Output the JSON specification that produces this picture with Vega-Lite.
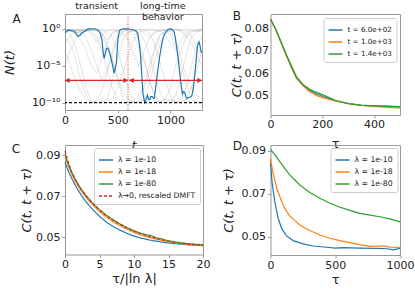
{
"$schema":"https://vega.github.io/schema/vega-lite/v6.json",
"padding":{"left":2,"top":0,"right":0,"bottom":0},
"config":{
"font":"DejaVu Sans",
"view":{"stroke":"#999","strokeWidth":1},
"axis":{"grid":false,"domain":false,"tickColor":"#999","tickSize":3,"labelFontSize":11,"labelColor":"#222","titleFontSize":13,"titleFontWeight":"normal","titleColor":"#222","labelPadding":1.5,"labelFlush":false},
"legend":{"orient":"top-right","offset":3,"fillColor":"white","strokeColor":"#ccc","cornerRadius":2,"padding":4,"labelFontSize":7.7,"labelColor":"#222","symbolType":"stroke","symbolSize":196,"symbolStrokeWidth":1.5,"rowPadding":-2.5,"labelOffset":4},
"title":{"fontSize":12,"fontWeight":"normal","anchor":"start","frame":"group","offset":0,"baseline":"alphabetic","color":"#222"}
},
"bounds":"flush",
"columns":2,
"spacing":{"row":30,"column":67.5},
"resolve":{"scale":{"color":"independent","strokeDash":"independent"},"legend":{"color":"independent","strokeDash":"independent"}},
"concat":[
{"width":137,"height":96,
"title":{"text":"A","dx":-52.6,"dy":29.4},
"layer":[
{"data":{"values":[
{"id":"g1","t":0,"N":0.794},{"id":"g1","t":50,"N":0.631},{"id":"g1","t":100,"N":0.316},{"id":"g1","t":150,"N":0.0316},{"id":"g1","t":200,"N":0.001},{"id":"g1","t":250,"N":1e-5},{"id":"g1","t":300,"N":1e-6},{"id":"g1","t":350,"N":1e-4},{"id":"g1","t":400,"N":0.01},{"id":"g1","t":450,"N":0.316},{"id":"g1","t":500,"N":0.631},{"id":"g1","t":550,"N":0.794},{"id":"g1","t":600,"N":0.501},{"id":"g1","t":650,"N":0.1},{"id":"g1","t":700,"N":0.00316},{"id":"g1","t":750,"N":3.16e-5},{"id":"g1","t":800,"N":1e-7},{"id":"g1","t":850,"N":1e-9},{"id":"g1","t":900,"N":1e-10},{"id":"g1","t":950,"N":3.16e-10},{"id":"g1","t":1000,"N":1e-8},{"id":"g1","t":1050,"N":1e-5},{"id":"g1","t":1100,"N":0.001},{"id":"g1","t":1150,"N":0.1},{"id":"g1","t":1200,"N":0.501},{"id":"g1","t":1250,"N":0.631},{"id":"g1","t":1300,"N":0.794},
{"id":"g2","t":0,"N":0.501},{"id":"g2","t":50,"N":0.794},{"id":"g2","t":100,"N":0.794},{"id":"g2","t":150,"N":0.631},{"id":"g2","t":200,"N":0.398},{"id":"g2","t":250,"N":0.631},{"id":"g2","t":300,"N":0.794},{"id":"g2","t":350,"N":0.316},{"id":"g2","t":400,"N":0.01},{"id":"g2","t":450,"N":1e-4},{"id":"g2","t":500,"N":1e-7},{"id":"g2","t":550,"N":3.16e-10},{"id":"g2","t":600,"N":1e-10},{"id":"g2","t":650,"N":1e-10},{"id":"g2","t":700,"N":1.58e-10},{"id":"g2","t":750,"N":1e-8},{"id":"g2","t":800,"N":1e-6},{"id":"g2","t":850,"N":0.001},{"id":"g2","t":900,"N":0.1},{"id":"g2","t":950,"N":0.398},{"id":"g2","t":1000,"N":0.631},{"id":"g2","t":1050,"N":0.794},{"id":"g2","t":1100,"N":0.631},{"id":"g2","t":1150,"N":0.158},{"id":"g2","t":1200,"N":0.01},{"id":"g2","t":1250,"N":3.16e-4},{"id":"g2","t":1300,"N":1e-5},
{"id":"g3","t":0,"N":0.1},{"id":"g3","t":50,"N":0.01},{"id":"g3","t":100,"N":1e-4},{"id":"g3","t":150,"N":1e-7},{"id":"g3","t":200,"N":1e-9},{"id":"g3","t":250,"N":1e-10},{"id":"g3","t":300,"N":2e-10},{"id":"g3","t":350,"N":3.16e-9},{"id":"g3","t":400,"N":1e-6},{"id":"g3","t":450,"N":3.16e-4},{"id":"g3","t":500,"N":0.0316},{"id":"g3","t":550,"N":0.398},{"id":"g3","t":600,"N":0.794},{"id":"g3","t":650,"N":0.794},{"id":"g3","t":700,"N":0.631},{"id":"g3","t":750,"N":0.316},{"id":"g3","t":800,"N":0.063},{"id":"g3","t":850,"N":0.251},{"id":"g3","t":900,"N":0.631},{"id":"g3","t":950,"N":0.794},{"id":"g3","t":1000,"N":0.501},{"id":"g3","t":1050,"N":0.0316},{"id":"g3","t":1100,"N":1e-4},{"id":"g3","t":1150,"N":3.16e-7},{"id":"g3","t":1200,"N":1e-8},{"id":"g3","t":1250,"N":1e-9},{"id":"g3","t":1300,"N":3.16e-10},
{"id":"g4","t":0,"N":0.316},{"id":"g4","t":50,"N":0.501},{"id":"g4","t":100,"N":0.631},{"id":"g4","t":150,"N":0.794},{"id":"g4","t":200,"N":0.794},{"id":"g4","t":250,"N":0.501},{"id":"g4","t":300,"N":0.1},{"id":"g4","t":350,"N":0.001},{"id":"g4","t":400,"N":3.16e-6},{"id":"g4","t":450,"N":1e-8},{"id":"g4","t":500,"N":3.16e-10},{"id":"g4","t":550,"N":1e-10},{"id":"g4","t":600,"N":1e-10},{"id":"g4","t":650,"N":1.58e-10},{"id":"g4","t":700,"N":1e-9},{"id":"g4","t":750,"N":3.16e-8},{"id":"g4","t":800,"N":1e-5},{"id":"g4","t":850,"N":0.00316},{"id":"g4","t":900,"N":0.158},{"id":"g4","t":950,"N":0.631},{"id":"g4","t":1000,"N":0.794},{"id":"g4","t":1050,"N":0.794},{"id":"g4","t":1100,"N":0.631},{"id":"g4","t":1150,"N":0.794},{"id":"g4","t":1200,"N":0.631},{"id":"g4","t":1250,"N":0.398},{"id":"g4","t":1300,"N":0.501},
{"id":"g5","t":0,"N":0.01},{"id":"g5","t":50,"N":0.1},{"id":"g5","t":100,"N":0.501},{"id":"g5","t":150,"N":0.794},{"id":"g5","t":200,"N":0.631},{"id":"g5","t":250,"N":0.251},{"id":"g5","t":300,"N":0.0158},{"id":"g5","t":350,"N":0.1},{"id":"g5","t":400,"N":0.501},{"id":"g5","t":450,"N":0.794},{"id":"g5","t":500,"N":0.631},{"id":"g5","t":550,"N":0.316},{"id":"g5","t":600,"N":0.0316},{"id":"g5","t":650,"N":3.16e-4},{"id":"g5","t":700,"N":1e-5},{"id":"g5","t":750,"N":0.001},{"id":"g5","t":800,"N":0.063},{"id":"g5","t":850,"N":0.398},{"id":"g5","t":900,"N":0.794},{"id":"g5","t":950,"N":0.631},{"id":"g5","t":1000,"N":0.158},{"id":"g5","t":1050,"N":0.00316},{"id":"g5","t":1100,"N":1e-5},{"id":"g5","t":1150,"N":3.16e-8},{"id":"g5","t":1200,"N":3.16e-10},{"id":"g5","t":1250,"N":1e-10},{"id":"g5","t":1300,"N":1e-10},
{"id":"g6","t":0,"N":0.631},{"id":"g6","t":50,"N":0.158},{"id":"g6","t":100,"N":0.00316},{"id":"g6","t":150,"N":1e-5},{"id":"g6","t":200,"N":1e-8},{"id":"g6","t":250,"N":1.58e-10},{"id":"g6","t":300,"N":1e-10},{"id":"g6","t":350,"N":1e-10},{"id":"g6","t":400,"N":3.16e-10},{"id":"g6","t":450,"N":1e-7},{"id":"g6","t":500,"N":1e-4},{"id":"g6","t":550,"N":0.0316},{"id":"g6","t":600,"N":0.316},{"id":"g6","t":650,"N":0.631},{"id":"g6","t":700,"N":0.794},{"id":"g6","t":750,"N":0.631},{"id":"g6","t":800,"N":0.251},{"id":"g6","t":850,"N":0.01},{"id":"g6","t":900,"N":3.16e-5},{"id":"g6","t":950,"N":1e-7},{"id":"g6","t":1000,"N":1e-9},{"id":"g6","t":1050,"N":1e-10},{"id":"g6","t":1100,"N":2e-10},{"id":"g6","t":1150,"N":1e-8},{"id":"g6","t":1200,"N":1e-5},{"id":"g6","t":1250,"N":0.00316},{"id":"g6","t":1300,"N":0.1},
{"id":"g7","t":0,"N":0.794},{"id":"g7","t":50,"N":0.794},{"id":"g7","t":100,"N":0.631},{"id":"g7","t":150,"N":0.501},{"id":"g7","t":200,"N":0.794},{"id":"g7","t":250,"N":0.794},{"id":"g7","t":300,"N":0.631},{"id":"g7","t":350,"N":0.251},{"id":"g7","t":400,"N":0.0316},{"id":"g7","t":450,"N":0.2},{"id":"g7","t":500,"N":0.631},{"id":"g7","t":550,"N":0.794},{"id":"g7","t":600,"N":0.794},{"id":"g7","t":650,"N":0.631},{"id":"g7","t":700,"N":0.316},{"id":"g7","t":750,"N":0.0316},{"id":"g7","t":800,"N":3.16e-4},{"id":"g7","t":850,"N":1e-6},{"id":"g7","t":900,"N":3.16e-9},{"id":"g7","t":950,"N":1e-10},{"id":"g7","t":1000,"N":1e-10},{"id":"g7","t":1050,"N":1e-9},{"id":"g7","t":1100,"N":3.16e-7},{"id":"g7","t":1150,"N":3.16e-4},{"id":"g7","t":1200,"N":0.063},{"id":"g7","t":1250,"N":0.398},{"id":"g7","t":1300,"N":0.631},
{"id":"g8","t":0,"N":0.001},{"id":"g8","t":50,"N":1e-5},{"id":"g8","t":100,"N":1e-7},{"id":"g8","t":150,"N":3.16e-9},{"id":"g8","t":200,"N":3.16e-10},{"id":"g8","t":250,"N":1e-10},{"id":"g8","t":300,"N":1e-10},{"id":"g8","t":350,"N":1.58e-10},{"id":"g8","t":400,"N":1e-10},{"id":"g8","t":450,"N":3.16e-10},{"id":"g8","t":500,"N":1e-8},{"id":"g8","t":550,"N":1e-6},{"id":"g8","t":600,"N":3.16e-4},{"id":"g8","t":650,"N":0.0316},{"id":"g8","t":700,"N":0.316},{"id":"g8","t":750,"N":0.631},{"id":"g8","t":800,"N":0.794},{"id":"g8","t":850,"N":0.631},{"id":"g8","t":900,"N":0.501},{"id":"g8","t":950,"N":0.631},{"id":"g8","t":1000,"N":0.794},{"id":"g8","t":1050,"N":0.794},{"id":"g8","t":1100,"N":0.398},{"id":"g8","t":1150,"N":0.063},{"id":"g8","t":1200,"N":0.316},{"id":"g8","t":1250,"N":0.631},{"id":"g8","t":1300,"N":0.794},
{"id":"g9","t":0,"N":0.398},{"id":"g9","t":50,"N":0.631},{"id":"g9","t":100,"N":0.794},{"id":"g9","t":150,"N":0.501},{"id":"g9","t":200,"N":0.063},{"id":"g9","t":250,"N":0.001},{"id":"g9","t":300,"N":1e-5},{"id":"g9","t":350,"N":1e-7},{"id":"g9","t":400,"N":3.16e-6},{"id":"g9","t":450,"N":0.001},{"id":"g9","t":500,"N":0.1},{"id":"g9","t":550,"N":0.501},{"id":"g9","t":600,"N":0.631},{"id":"g9","t":650,"N":0.398},{"id":"g9","t":700,"N":0.0316},{"id":"g9","t":750,"N":1e-4},{"id":"g9","t":800,"N":1e-7},{"id":"g9","t":850,"N":1e-9},{"id":"g9","t":900,"N":1e-10},{"id":"g9","t":950,"N":1e-10},{"id":"g9","t":1000,"N":2.51e-10},{"id":"g9","t":1050,"N":1.58e-10},{"id":"g9","t":1100,"N":1e-10},{"id":"g9","t":1150,"N":3.16e-10},{"id":"g9","t":1200,"N":1e-8},{"id":"g9","t":1250,"N":3.16e-6},{"id":"g9","t":1300,"N":0.001},
{"id":"g10","t":0,"N":0.794},{"id":"g10","t":50,"N":0.501},{"id":"g10","t":100,"N":0.251},{"id":"g10","t":150,"N":0.501},{"id":"g10","t":200,"N":0.794},{"id":"g10","t":250,"N":0.631},{"id":"g10","t":300,"N":0.794},{"id":"g10","t":350,"N":0.794},{"id":"g10","t":400,"N":0.398},{"id":"g10","t":450,"N":0.063},{"id":"g10","t":500,"N":0.001},{"id":"g10","t":550,"N":3.16e-6},{"id":"g10","t":600,"N":1e-8},{"id":"g10","t":650,"N":1.58e-10},{"id":"g10","t":700,"N":1e-10},{"id":"g10","t":750,"N":3.16e-10},{"id":"g10","t":800,"N":3.16e-8},{"id":"g10","t":850,"N":3.16e-5},{"id":"g10","t":900,"N":0.01},{"id":"g10","t":950,"N":0.251},{"id":"g10","t":1000,"N":0.631},{"id":"g10","t":1050,"N":0.794},{"id":"g10","t":1100,"N":0.794},{"id":"g10","t":1150,"N":0.501},{"id":"g10","t":1200,"N":0.126},{"id":"g10","t":1250,"N":0.00316},{"id":"g10","t":1300,"N":1e-4},
{"id":"g11","t":0,"N":0.631},{"id":"g11","t":50,"N":0.794},{"id":"g11","t":100,"N":0.501},{"id":"g11","t":150,"N":0.251},{"id":"g11","t":200,"N":0.501},{"id":"g11","t":250,"N":0.794},{"id":"g11","t":300,"N":0.794},{"id":"g11","t":350,"N":0.501},{"id":"g11","t":400,"N":0.631},{"id":"g11","t":450,"N":0.794},{"id":"g11","t":500,"N":0.398},{"id":"g11","t":550,"N":0.1},{"id":"g11","t":600,"N":0.316},{"id":"g11","t":650,"N":0.631},{"id":"g11","t":700,"N":0.794},{"id":"g11","t":750,"N":0.794},{"id":"g11","t":800,"N":0.631},{"id":"g11","t":850,"N":0.794},{"id":"g11","t":900,"N":0.501},{"id":"g11","t":950,"N":0.158},{"id":"g11","t":1000,"N":0.01},{"id":"g11","t":1050,"N":0.001},{"id":"g11","t":1100,"N":0.0316},{"id":"g11","t":1150,"N":0.316},{"id":"g11","t":1200,"N":0.631},{"id":"g11","t":1250,"N":0.794},{"id":"g11","t":1300,"N":0.794},
{"id":"g12","t":0,"N":1e-5},{"id":"g12","t":50,"N":0.001},{"id":"g12","t":100,"N":0.0316},{"id":"g12","t":150,"N":0.316},{"id":"g12","t":200,"N":0.631},{"id":"g12","t":250,"N":0.794},{"id":"g12","t":300,"N":0.501},{"id":"g12","t":350,"N":0.1},{"id":"g12","t":400,"N":0.00316},{"id":"g12","t":450,"N":3.16e-5},{"id":"g12","t":500,"N":3.16e-7},{"id":"g12","t":550,"N":3.16e-9},{"id":"g12","t":600,"N":3.16e-10},{"id":"g12","t":650,"N":1e-10},{"id":"g12","t":700,"N":1e-10},{"id":"g12","t":750,"N":2e-10},{"id":"g12","t":800,"N":1e-10},{"id":"g12","t":850,"N":1.58e-10},{"id":"g12","t":900,"N":1e-10},{"id":"g12","t":950,"N":3.16e-10},{"id":"g12","t":1000,"N":2e-10},{"id":"g12","t":1050,"N":1e-10},{"id":"g12","t":1100,"N":1e-10},{"id":"g12","t":1150,"N":2.51e-10},{"id":"g12","t":1200,"N":1e-10},{"id":"g12","t":1250,"N":1.58e-10},{"id":"g12","t":1300,"N":1e-10}
]},
"mark":{"type":"line","color":"#9a9a9a","opacity":0.35,"strokeWidth":0.8},
"encoding":{
"x":{"field":"t","type":"quantitative","scale":{"domain":[0,1300]},"axis":{"values":[0,500,1000],"format":"d","title":"t","titleFontStyle":"italic","labelPadding":1,"titlePadding":14}},
"y":{"field":"N","type":"quantitative","scale":{"type":"log","domain":[1.17e-11,13.5]},"axis":{"values":[1e-10,1e-5,1],"labelExpr":"datum.value > 0.5 ? '10⁰' : datum.value > 1e-7 ? '10⁻⁵' : '10⁻¹⁰'","title":"N(t)","titleFontStyle":"italic","tickSize":3,"labelPadding":2,"titlePadding":15}},
"detail":{"field":"id"}}},
{"data":{"values":[
{"t":0,"N":0.3},{"t":28,"N":0.63},{"t":76,"N":0.5},{"t":100,"N":0.32},{"t":123,"N":0.09},{"t":140,"N":0.126},{"t":156,"N":0.23},{"t":190,"N":0.5},{"t":218,"N":0.95},{"t":250,"N":1},{"t":282,"N":1},{"t":313,"N":0.63},{"t":335,"N":0.25},{"t":350,"N":0.0316},{"t":362,"N":6.3e-4},{"t":372,"N":1e-4},{"t":385,"N":6.3e-4},{"t":393,"N":2e-3},{"t":405,"N":2.5e-3},{"t":415,"N":1.26e-3},{"t":428,"N":3.16e-4},{"t":440,"N":6.3e-5},{"t":455,"N":6.3e-6},{"t":465,"N":1e-6},{"t":475,"N":3.16e-6},{"t":488,"N":2.5e-5},{"t":497,"N":3.16e-3},{"t":503,"N":0.05},{"t":519,"N":0.63},{"t":550,"N":1},{"t":575,"N":0.95},{"t":598,"N":1},{"t":630,"N":0.8},{"t":661,"N":0.63},{"t":680,"N":0.4},{"t":693,"N":0.145},{"t":705,"N":0.01},{"t":718,"N":1.58e-4},{"t":730,"N":3.16e-7},{"t":740,"N":1.58e-9},{"t":756,"N":1e-10},{"t":770,"N":3.16e-10},{"t":782,"N":1e-9},{"t":793,"N":2.5e-10},{"t":804,"N":2.5e-10},{"t":815,"N":6.3e-10},{"t":826,"N":6.3e-10},{"t":845,"N":3.5e-10},{"t":856,"N":3.16e-9},{"t":867,"N":7e-8},{"t":882,"N":3.16e-6},{"t":898,"N":1.58e-4},{"t":915,"N":5e-3},{"t":930,"N":0.055},{"t":945,"N":0.2},{"t":962,"N":0.46},{"t":978,"N":0.8},{"t":993,"N":1},{"t":1010,"N":0.89},{"t":1025,"N":0.63},{"t":1037,"N":0.32},{"t":1047,"N":0.055},{"t":1060,"N":3.16e-3},{"t":1072,"N":1.58e-4},{"t":1085,"N":3.16e-6},{"t":1098,"N":7e-8},{"t":1106,"N":1e-8},{"t":1114,"N":1.58e-9},{"t":1125,"N":3.16e-9},{"t":1136,"N":2.5e-9},{"t":1147,"N":6.3e-10},{"t":1158,"N":3.5e-10},{"t":1170,"N":5e-10},{"t":1183,"N":5.6e-10},{"t":1195,"N":6.3e-10},{"t":1205,"N":1e-9},{"t":1218,"N":1e-8},{"t":1231,"N":5e-7},{"t":1244,"N":5e-5},{"t":1256,"N":3.16e-3},{"t":1265,"N":0.0126},{"t":1271,"N":0.017},{"t":1280,"N":6.3e-3},{"t":1288,"N":1.26e-3},{"t":1296,"N":5e-4}
]},
"mark":{"type":"line","color":"#1f77b4","strokeWidth":1.2},
"encoding":{"x":{"field":"t","type":"quantitative"},"y":{"field":"N","type":"quantitative"}}},
{"data":{"values":[{"N":1e-10}]},
"mark":{"type":"rule","color":"black","strokeDash":[3,2],"strokeWidth":1.3},
"encoding":{"y":{"field":"N","type":"quantitative"}}},
{"data":{"values":[{"t":598}]},
"mark":{"type":"rule","color":"#d62728","strokeDash":[1,1.5],"strokeWidth":0.9},
"encoding":{"x":{"field":"t","type":"quantitative"}}},
{"data":{"values":[{"x0":0,"x1":598,"N":1e-7},{"x0":608,"x1":1300,"N":1e-7}]},
"mark":{"type":"rule","color":"#d62728","strokeWidth":1.3},
"encoding":{"x":{"field":"x0","type":"quantitative"},"x2":{"field":"x1"},"y":{"field":"N","type":"quantitative"}}},
{"data":{"values":[{"t":22,"N":1e-7,"dir":"left"},{"t":576,"N":1e-7,"dir":"right"},{"t":630,"N":1e-7,"dir":"left"},{"t":1278,"N":1e-7,"dir":"right"}]},
"mark":{"type":"point","filled":true,"color":"#d62728","opacity":1,"size":28},
"encoding":{"x":{"field":"t","type":"quantitative"},"y":{"field":"N","type":"quantitative"},"shape":{"field":"dir","type":"nominal","scale":{"domain":["left","right"],"range":["triangle-left","triangle-right"]},"legend":null}}},
{"data":{"values":[{"t":300,"label":"transient"},{"t":928,"label":["long-time","behavior"]}]},
"mark":{"type":"text","baseline":"top","align":"center","fontSize":9.5,"lineHeight":11.5,"color":"#222"},
"encoding":{"x":{"field":"t","type":"quantitative"},"y":{"datum":6500},"text":{"field":"label","type":"nominal"}}}
]},
{"width":129.5,"height":101,
"title":{"text":"B","dx":-37.7,"dy":12.5},
"data":{"values":[
{"s":"t = 6.0e+02","tau":0,"C":0.0839},{"s":"t = 6.0e+02","tau":20,"C":0.0794},{"s":"t = 6.0e+02","tau":40,"C":0.0739},{"s":"t = 6.0e+02","tau":60,"C":0.0682},{"s":"t = 6.0e+02","tau":80,"C":0.0627},{"s":"t = 6.0e+02","tau":100,"C":0.0578},{"s":"t = 6.0e+02","tau":125,"C":0.0548},{"s":"t = 6.0e+02","tau":150,"C":0.0525},{"s":"t = 6.0e+02","tau":175,"C":0.0510},{"s":"t = 6.0e+02","tau":200,"C":0.0498},{"s":"t = 6.0e+02","tau":250,"C":0.0478},{"s":"t = 6.0e+02","tau":300,"C":0.0466},{"s":"t = 6.0e+02","tau":350,"C":0.0459},{"s":"t = 6.0e+02","tau":400,"C":0.0456},{"s":"t = 6.0e+02","tau":450,"C":0.0454},{"s":"t = 6.0e+02","tau":500,"C":0.0452},
{"s":"t = 1.0e+03","tau":0,"C":0.0838},{"s":"t = 1.0e+03","tau":20,"C":0.0793},{"s":"t = 1.0e+03","tau":40,"C":0.0738},{"s":"t = 1.0e+03","tau":60,"C":0.0683},{"s":"t = 1.0e+03","tau":80,"C":0.0630},{"s":"t = 1.0e+03","tau":100,"C":0.0580},{"s":"t = 1.0e+03","tau":125,"C":0.0545},{"s":"t = 1.0e+03","tau":150,"C":0.0520},{"s":"t = 1.0e+03","tau":175,"C":0.0503},{"s":"t = 1.0e+03","tau":200,"C":0.0492},{"s":"t = 1.0e+03","tau":250,"C":0.0477},{"s":"t = 1.0e+03","tau":300,"C":0.0465},{"s":"t = 1.0e+03","tau":350,"C":0.0458},{"s":"t = 1.0e+03","tau":400,"C":0.0453},{"s":"t = 1.0e+03","tau":450,"C":0.0449},{"s":"t = 1.0e+03","tau":500,"C":0.0446},
{"s":"t = 1.4e+03","tau":0,"C":0.0840},{"s":"t = 1.4e+03","tau":20,"C":0.0795},{"s":"t = 1.4e+03","tau":40,"C":0.0740},{"s":"t = 1.4e+03","tau":60,"C":0.0685},{"s":"t = 1.4e+03","tau":80,"C":0.0635},{"s":"t = 1.4e+03","tau":100,"C":0.0585},{"s":"t = 1.4e+03","tau":125,"C":0.0550},{"s":"t = 1.4e+03","tau":150,"C":0.0530},{"s":"t = 1.4e+03","tau":175,"C":0.0516},{"s":"t = 1.4e+03","tau":200,"C":0.0505},{"s":"t = 1.4e+03","tau":250,"C":0.0480},{"s":"t = 1.4e+03","tau":300,"C":0.0465},{"s":"t = 1.4e+03","tau":350,"C":0.0458},{"s":"t = 1.4e+03","tau":400,"C":0.0455},{"s":"t = 1.4e+03","tau":450,"C":0.0453},{"s":"t = 1.4e+03","tau":500,"C":0.0451}
]},
"mark":{"type":"line","strokeWidth":1.2},
"encoding":{
"x":{"field":"tau","type":"quantitative","scale":{"domain":[0,500]},"axis":{"values":[0,200,400],"title":"τ","labelPadding":0,"titlePadding":8}},
"y":{"field":"C","type":"quantitative","scale":{"domain":[0.0415,0.0862]},"axis":{"values":[0.05,0.06,0.07,0.08],"format":".2f","title":"C(t, t + τ)","titleFontStyle":"italic","tickSize":0,"labelPadding":2,"titlePadding":1}},
"color":{"field":"s","type":"nominal","scale":{"domain":["t = 6.0e+02","t = 1.0e+03","t = 1.4e+03"],"range":["#1f77b4","#ff7f0e","#2ca02c"]},"legend":{"title":null,"labelFontSize":7.2,"offset":4}}}},
{"width":138,"height":109.5,
"title":{"text":"C","dx":-53.3,"dy":14.5},
"data":{"values":[
{"s":"λ = 1e-10","x":0,"C":0.0865},{"s":"λ = 1e-10","x":0.5,"C":0.0820},{"s":"λ = 1e-10","x":1,"C":0.0785},{"s":"λ = 1e-10","x":1.5,"C":0.0752},{"s":"λ = 1e-10","x":2,"C":0.0723},{"s":"λ = 1e-10","x":2.5,"C":0.0697},{"s":"λ = 1e-10","x":3,"C":0.0674},{"s":"λ = 1e-10","x":4,"C":0.0635},{"s":"λ = 1e-10","x":5,"C":0.0601},{"s":"λ = 1e-10","x":6,"C":0.0573},{"s":"λ = 1e-10","x":7,"C":0.0551},{"s":"λ = 1e-10","x":8,"C":0.0533},{"s":"λ = 1e-10","x":9,"C":0.0518},{"s":"λ = 1e-10","x":10,"C":0.0505},{"s":"λ = 1e-10","x":11,"C":0.0495},{"s":"λ = 1e-10","x":12.5,"C":0.0484},{"s":"λ = 1e-10","x":14,"C":0.0476},{"s":"λ = 1e-10","x":15,"C":0.0471},{"s":"λ = 1e-10","x":17.5,"C":0.0463},{"s":"λ = 1e-10","x":20,"C":0.0458},
{"s":"λ = 1e-18","x":0,"C":0.0890},{"s":"λ = 1e-18","x":0.5,"C":0.0845},{"s":"λ = 1e-18","x":1,"C":0.0805},{"s":"λ = 1e-18","x":1.5,"C":0.0772},{"s":"λ = 1e-18","x":2,"C":0.0743},{"s":"λ = 1e-18","x":2.5,"C":0.0718},{"s":"λ = 1e-18","x":3,"C":0.0696},{"s":"λ = 1e-18","x":4,"C":0.0657},{"s":"λ = 1e-18","x":5,"C":0.0625},{"s":"λ = 1e-18","x":6,"C":0.0597},{"s":"λ = 1e-18","x":7,"C":0.0574},{"s":"λ = 1e-18","x":8,"C":0.0555},{"s":"λ = 1e-18","x":9,"C":0.0538},{"s":"λ = 1e-18","x":10,"C":0.0523},{"s":"λ = 1e-18","x":11,"C":0.0510},{"s":"λ = 1e-18","x":12.5,"C":0.0496},{"s":"λ = 1e-18","x":14,"C":0.0484},{"s":"λ = 1e-18","x":15,"C":0.0477},{"s":"λ = 1e-18","x":17.5,"C":0.0465},{"s":"λ = 1e-18","x":20,"C":0.0458},
{"s":"λ = 1e-80","x":0,"C":0.0905},{"s":"λ = 1e-80","x":0.5,"C":0.0855},{"s":"λ = 1e-80","x":1,"C":0.0815},{"s":"λ = 1e-80","x":1.5,"C":0.0781},{"s":"λ = 1e-80","x":2,"C":0.0752},{"s":"λ = 1e-80","x":2.5,"C":0.0727},{"s":"λ = 1e-80","x":3,"C":0.0705},{"s":"λ = 1e-80","x":4,"C":0.0666},{"s":"λ = 1e-80","x":5,"C":0.0634},{"s":"λ = 1e-80","x":6,"C":0.0607},{"s":"λ = 1e-80","x":7,"C":0.0584},{"s":"λ = 1e-80","x":8,"C":0.0564},{"s":"λ = 1e-80","x":9,"C":0.0546},{"s":"λ = 1e-80","x":10,"C":0.0531},{"s":"λ = 1e-80","x":11,"C":0.0518},{"s":"λ = 1e-80","x":12,"C":0.0509},{"s":"λ = 1e-80","x":12.5,"C":0.0508},{"s":"λ = 1e-80","x":13,"C":0.0499},{"s":"λ = 1e-80","x":14,"C":0.0491},{"s":"λ = 1e-80","x":15,"C":0.0482},{"s":"λ = 1e-80","x":16,"C":0.0476},{"s":"λ = 1e-80","x":17.5,"C":0.0469},{"s":"λ = 1e-80","x":19,"C":0.0465},{"s":"λ = 1e-80","x":20,"C":0.0463},
{"s":"λ→0, rescaled DMFT","x":0,"C":0.0920},{"s":"λ→0, rescaled DMFT","x":0.5,"C":0.0860},{"s":"λ→0, rescaled DMFT","x":1,"C":0.0815},{"s":"λ→0, rescaled DMFT","x":1.5,"C":0.0780},{"s":"λ→0, rescaled DMFT","x":2,"C":0.0750},{"s":"λ→0, rescaled DMFT","x":2.5,"C":0.0725},{"s":"λ→0, rescaled DMFT","x":3,"C":0.0703},{"s":"λ→0, rescaled DMFT","x":4,"C":0.0664},{"s":"λ→0, rescaled DMFT","x":5,"C":0.0632},{"s":"λ→0, rescaled DMFT","x":6,"C":0.0604},{"s":"λ→0, rescaled DMFT","x":7,"C":0.0581},{"s":"λ→0, rescaled DMFT","x":8,"C":0.0561},{"s":"λ→0, rescaled DMFT","x":9,"C":0.0544},{"s":"λ→0, rescaled DMFT","x":10,"C":0.0529},{"s":"λ→0, rescaled DMFT","x":11,"C":0.0516},{"s":"λ→0, rescaled DMFT","x":12.5,"C":0.0500},{"s":"λ→0, rescaled DMFT","x":14,"C":0.0487},{"s":"λ→0, rescaled DMFT","x":15,"C":0.0480},{"s":"λ→0, rescaled DMFT","x":17.5,"C":0.0467},{"s":"λ→0, rescaled DMFT","x":20,"C":0.0459}
]},
"mark":{"type":"line","strokeWidth":1.2},
"encoding":{
"x":{"field":"x","type":"quantitative","scale":{"domain":[0,20]},"axis":{"values":[0,5,10,15,20],"title":"τ/|ln λ|","labelPadding":1,"titlePadding":3}},
"y":{"field":"C","type":"quantitative","scale":{"domain":[0.0415,0.0949]},"axis":{"values":[0.05,0.07,0.09],"format":".2f","title":"C(t, t + τ)","titleFontStyle":"italic","tickSize":3,"labelPadding":2,"titlePadding":2}},
"color":{"field":"s","type":"nominal","scale":{"domain":["λ = 1e-10","λ = 1e-18","λ = 1e-80","λ→0, rescaled DMFT"],"range":["#1f77b4","#ff7f0e","#2ca02c","#d62728"]},"legend":{"title":null}},
"strokeDash":{"field":"s","type":"nominal","scale":{"domain":["λ = 1e-10","λ = 1e-18","λ = 1e-80","λ→0, rescaled DMFT"],"range":[[1,0],[1,0],[1,0],[3,2]]},"legend":{"title":null}}}},
{"width":129.5,"height":110,
"title":{"text":"D","dx":-37.7,"dy":12.3},
"data":{"values":[
{"s":"λ = 1e-10","tau":0,"C":0.0841},{"s":"λ = 1e-10","tau":13,"C":0.0748},{"s":"λ = 1e-10","tau":33,"C":0.0663},{"s":"λ = 1e-10","tau":59,"C":0.0585},{"s":"λ = 1e-10","tau":85,"C":0.0539},{"s":"λ = 1e-10","tau":123,"C":0.0503},{"s":"λ = 1e-10","tau":175,"C":0.0481},{"s":"λ = 1e-10","tau":252,"C":0.0466},{"s":"λ = 1e-10","tau":330,"C":0.0456},{"s":"λ = 1e-10","tau":433,"C":0.0450},{"s":"λ = 1e-10","tau":500,"C":0.0446},{"s":"λ = 1e-10","tau":562,"C":0.0448},{"s":"λ = 1e-10","tau":690,"C":0.0446},{"s":"λ = 1e-10","tau":819,"C":0.0445},{"s":"λ = 1e-10","tau":900,"C":0.0443},{"s":"λ = 1e-10","tau":948,"C":0.0438},{"s":"λ = 1e-10","tau":1000,"C":0.0445},
{"s":"λ = 1e-18","tau":0,"C":0.0864},{"s":"λ = 1e-18","tau":15,"C":0.0810},{"s":"λ = 1e-18","tau":33,"C":0.0763},{"s":"λ = 1e-18","tau":50,"C":0.0722},{"s":"λ = 1e-18","tau":72,"C":0.0686},{"s":"λ = 1e-18","tau":90,"C":0.0657},{"s":"λ = 1e-18","tau":110,"C":0.0632},{"s":"λ = 1e-18","tau":130,"C":0.0612},{"s":"λ = 1e-18","tau":149,"C":0.0596},{"s":"λ = 1e-18","tau":190,"C":0.0573},{"s":"λ = 1e-18","tau":226,"C":0.0554},{"s":"λ = 1e-18","tau":265,"C":0.0540},{"s":"λ = 1e-18","tau":304,"C":0.0528},{"s":"λ = 1e-18","tau":381,"C":0.0507},{"s":"λ = 1e-18","tau":459,"C":0.0492},{"s":"λ = 1e-18","tau":536,"C":0.0481},{"s":"λ = 1e-18","tau":613,"C":0.0472},{"s":"λ = 1e-18","tau":690,"C":0.0462},{"s":"λ = 1e-18","tau":768,"C":0.0454},{"s":"λ = 1e-18","tau":845,"C":0.0456},{"s":"λ = 1e-18","tau":880,"C":0.0455},{"s":"λ = 1e-18","tau":922,"C":0.0451},{"s":"λ = 1e-18","tau":1000,"C":0.0449},
{"s":"λ = 1e-80","tau":0,"C":0.0906},{"s":"λ = 1e-80","tau":35,"C":0.0880},{"s":"λ = 1e-80","tau":72,"C":0.0849},{"s":"λ = 1e-80","tau":110,"C":0.0817},{"s":"λ = 1e-80","tau":149,"C":0.0787},{"s":"λ = 1e-80","tau":190,"C":0.0762},{"s":"λ = 1e-80","tau":226,"C":0.0740},{"s":"λ = 1e-80","tau":265,"C":0.0722},{"s":"λ = 1e-80","tau":304,"C":0.0705},{"s":"λ = 1e-80","tau":381,"C":0.0678},{"s":"λ = 1e-80","tau":459,"C":0.0655},{"s":"λ = 1e-80","tau":536,"C":0.0636},{"s":"λ = 1e-80","tau":613,"C":0.0622},{"s":"λ = 1e-80","tau":690,"C":0.0608},{"s":"λ = 1e-80","tau":768,"C":0.0600},{"s":"λ = 1e-80","tau":845,"C":0.0592},{"s":"λ = 1e-80","tau":922,"C":0.0582},{"s":"λ = 1e-80","tau":1000,"C":0.0568}
]},
"mark":{"type":"line","strokeWidth":1.2},
"encoding":{
"x":{"field":"tau","type":"quantitative","scale":{"domain":[0,1000]},"axis":{"values":[0,500,1000],"format":"d","title":"τ","labelPadding":1,"titlePadding":3}},
"y":{"field":"C","type":"quantitative","scale":{"domain":[0.0414,0.0926]},"axis":{"values":[0.05,0.07,0.09],"format":".2f","title":"C(t, t + τ)","titleFontStyle":"italic","tickSize":3,"labelPadding":2,"titlePadding":6}},
"color":{"field":"s","type":"nominal","scale":{"domain":["λ = 1e-10","λ = 1e-18","λ = 1e-80"],"range":["#1f77b4","#ff7f0e","#2ca02c"]},"legend":{"title":null}}}}
]
}
